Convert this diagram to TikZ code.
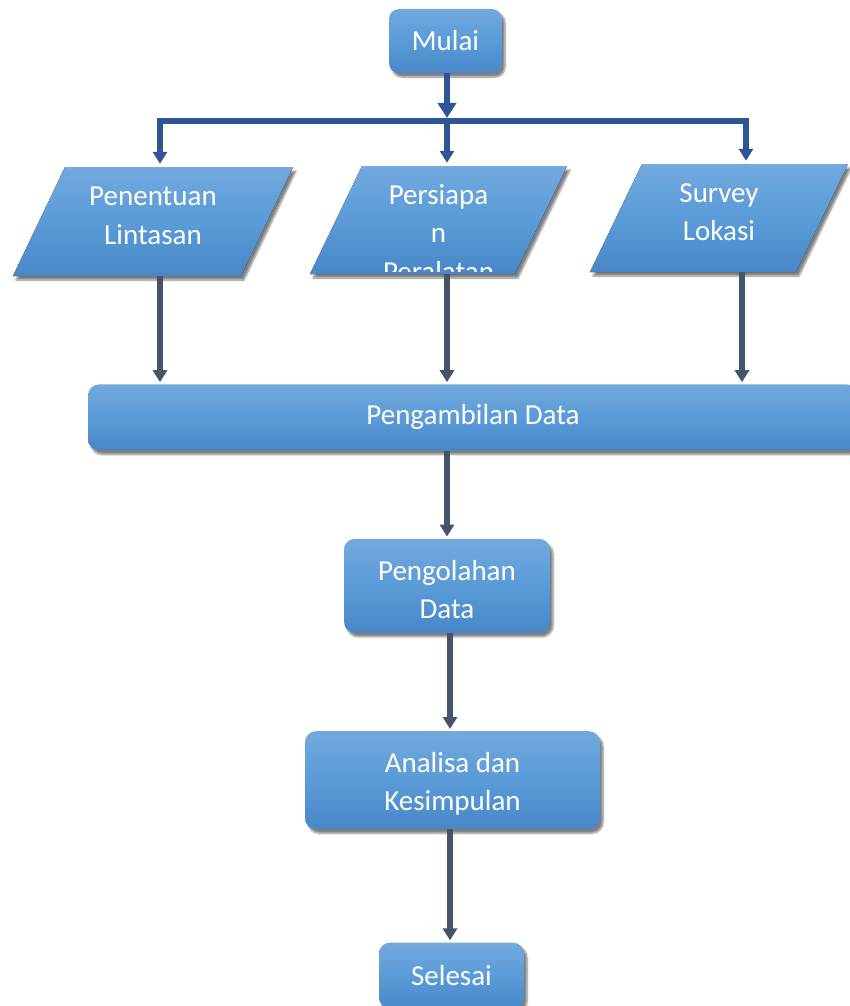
\documentclass[tikz,border=0pt]{standalone}
\usepackage{fontspec}
\setmainfont{Carlito}
\usetikzlibrary{positioning}
\usetikzlibrary{arrows.meta}
\usetikzlibrary{shadows.blur}
\definecolor{boxTop}{HTML}{72A9DE}
\definecolor{boxMid}{HTML}{5A9BD8}
\definecolor{boxBottom}{HTML}{4887C8}
\definecolor{lineBlue}{HTML}{2F5597}
\definecolor{lineSlate}{HTML}{44546A}
\tikzset{
    flowtext/.style={text=white, align=center, font=\fontsize{29}{38.5}\selectfont},
    flowfill/.style={top color=boxTop, bottom color=boxBottom, middle color=boxMid, blur shadow={shadow xshift=3pt, shadow yshift=-4pt, shadow blur steps=6, shadow opacity=50}},
    flowbox/.style={rectangle, rounded corners=11pt, flowfill, flowtext},
    inputbox/.style={rectangle, flowtext, text depth=12pt},
    toparrow/.style={draw=lineBlue, line width=5.5pt, -{Triangle[width=14pt, length=12pt]}},
    botarrow/.style={draw=lineSlate, line width=5.5pt, -{Triangle[width=14pt, length=12pt]}}
}
% slanted input box: name, x, y, width, height, text
\newcommand{\parabox}[6]{
    \fill [flowfill] (#2,#3) ++(-#4/2+26,-#5/2) -- ++(#4,0) -- ++(-52,#5) -- ++(-#4,0) -- cycle;
    \node (#1) [inputbox, minimum width=#4pt, minimum height=#5pt] at (#2,#3) {#6};
}

\begin{document}
\begin{tikzpicture}[x=1pt, y=-1pt, inner sep=0pt]
    \useasboundingbox (0,0) rectangle (849,1006);

    \node (mulai) [flowbox, rounded corners=10pt, minimum width=113pt, minimum height=64pt] at (445.5,41) {Mulai};

    \parabox{lintasan}{153}{221.5}{228}{109}{Penentuan\\Lintasan}
    \parabox{peralatan}{438.5}{220}{205}{108}{}
    \parabox{lokasi}{719}{218}{206}{108}{Survey\\Lokasi}
    \begin{scope}
        \clip ([xshift=26pt]peralatan.north west) -- ([xshift=26pt]peralatan.north east) -- ([xshift=-24pt, yshift=3pt]peralatan.south east) -- ([xshift=-24pt, yshift=3pt]peralatan.south west) -- cycle;
        \node (peralatan_text) [flowtext, anchor=base] at (438.5,281) {Persiapa\\n\\Peralatan};
    \end{scope}

    \node (ambil) [flowbox, minimum width=770pt, minimum height=66pt, below=110pt of peralatan, xshift=34.5pt] {Pengambilan Data};
    \node (olah) [flowbox, text height=66pt, minimum width=206pt, minimum height=94pt, below=88pt of ambil, xshift=-26pt] {Pengolahan\\Data};
    \node (analisa) [flowbox, text height=66pt, minimum width=295pt, minimum height=98pt, below=98pt of olah, xshift=5.5pt] {Analisa dan\\Kesimpulan};
    \node (selesai) [flowbox, minimum width=145pt, minimum height=66pt, below=113pt of analisa, xshift=-1pt] {Selesai};

    \coordinate (split) at (447,121);
    \coordinate (left_drop) at (160,121);
    \coordinate (right_drop) at (746,121);

    \draw [toparrow, -{Triangle[width=18pt, length=15pt]}, shorten >=3pt] (mulai.south -| split) -- (split);
    \draw [toparrow, shorten >=3pt] (split) -- (left_drop) -- (left_drop |- lintasan.north);
    \draw [toparrow, shorten >=3pt] (split) -- (right_drop) -- (right_drop |- lokasi.north);
    \draw [toparrow, shorten >=3pt] (split) -- (split |- peralatan.north);

    \draw [botarrow, shorten >=2pt] (left_drop |- lintasan.south) -- (left_drop |- ambil.north);
    \draw [botarrow, shorten >=2pt] (split |- peralatan.south) -- (split |- ambil.north);
    \draw [botarrow, shorten >=2pt] ([xshift=-4pt]right_drop |- lokasi.south) -- ([xshift=-4pt]right_drop |- ambil.north);

    \coordinate (spine) at ([xshift=3pt]olah.south);
    \draw [botarrow, shorten >=2pt] (ambil.south -| olah.north) -- (olah.north);
    \draw [botarrow, shorten >=2pt] (spine) -- (spine |- analisa.north);
    \draw [botarrow, shorten >=2pt] (spine |- analisa.south) -- (spine |- selesai.north);
\end{tikzpicture}
\end{document}
